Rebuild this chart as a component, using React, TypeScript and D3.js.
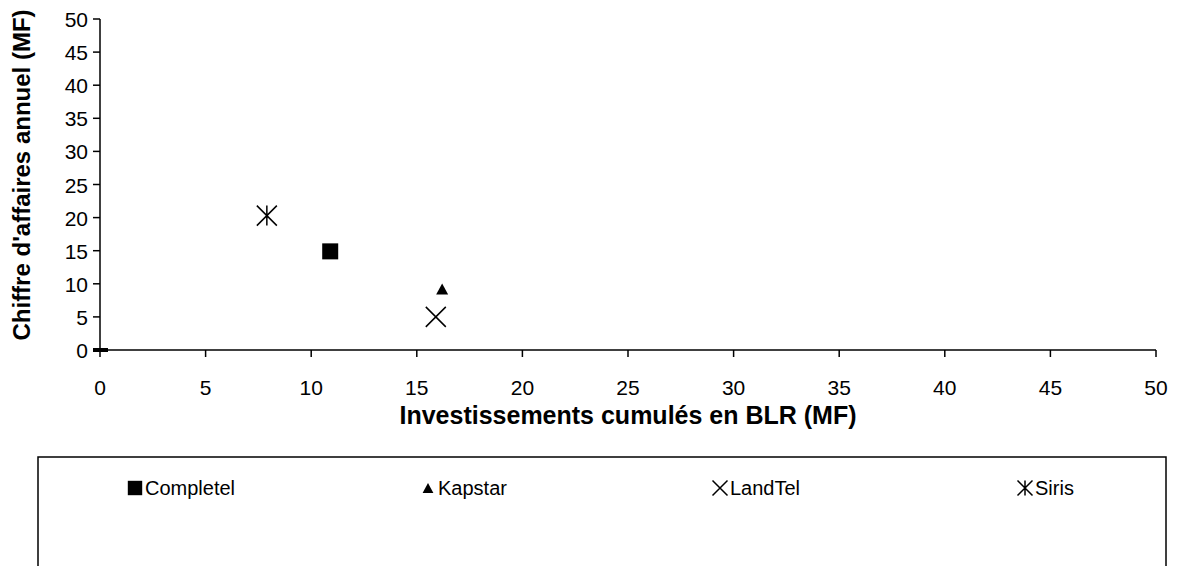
import React from "react";
import * as d3 from "d3";

const seriesNames = ["Completel", "Kapstar", "LandTel", "Siris"];
const seriesX = [10.9, 16.2, 15.9, 7.9];
const seriesY = [14.9, 9.2, 5.0, 20.3];
const markerKinds = ["square", "triangle", "x", "asterisk"];
const originPoint = [0, 0];
const xTicks = [0, 5, 10, 15, 20, 25, 30, 35, 40, 45, 50];
const yTicks = [0, 5, 10, 15, 20, 25, 30, 35, 40, 45, 50];

const W = 1177;
const H = 566;
const left = 100;
const right = 1156;
const top = 19;
const bottom = 350;
const FONT = "'Liberation Sans', Arial, sans-serif";

function Marker({ kind, cx, cy, scale = 1 }: { kind: string; cx: number; cy: number; scale?: number }) {
  if (kind === "square") {
    const s = 16 * scale;
    return <rect x={cx - s / 2} y={cy - s / 2} width={s} height={s} fill="#000" />;
  }
  if (kind === "triangle") {
    const w = 12 * scale;
    const h = 11 * scale;
    return <path d={`M${cx},${cy - h / 2}L${cx + w / 2},${cy + h / 2}L${cx - w / 2},${cy + h / 2}Z`} fill="#000" />;
  }
  if (kind === "x") {
    const r = 10 * scale;
    return (
      <path d={`M${cx - r},${cy - r}L${cx + r},${cy + r}M${cx - r},${cy + r}L${cx + r},${cy - r}`} stroke="#000" strokeWidth={1.5} fill="none" />
    );
  }
  const r = 10 * scale;
  return (
    <path
      d={`M${cx - r},${cy - r}L${cx + r},${cy + r}M${cx - r},${cy + r}L${cx + r},${cy - r}M${cx},${cy - r}L${cx},${cy + r}`}
      stroke="#000"
      strokeWidth={1.5}
      fill="none"
    />
  );
}

export default function App() {
  const x = d3.scaleLinear().domain([0, 50]).range([left, right]);
  const y = d3.scaleLinear().domain([0, 50]).range([bottom, top]);
  const legendX = [127, 420, 712, 1017];
  const legendScale = [0.9, 0.9, 0.75, 0.75];
  return (
    <svg width={W} height={H} style={{ position: "absolute", left: 0, top: 0 }} fontFamily={FONT}>
      <rect width={W} height={H} fill="#fff" />
      <line x1={x(0)} x2={x(50)} y1={y(0)} y2={y(0)} stroke="#000" strokeWidth={1.5} />
      <line x1={x(0)} x2={x(0)} y1={y(0)} y2={y(50)} stroke="#000" strokeWidth={1.5} />
      {xTicks.map((t) => (
        <g key={"xt" + t}>
          <line x1={x(t)} x2={x(t)} y1={y(0)} y2={y(0) + 7} stroke="#000" strokeWidth={1.5} />
          <text x={x(t)} y={y(0) + 45} textAnchor="middle" fontSize={21}>
            {t}
          </text>
        </g>
      ))}
      {yTicks.map((t) => (
        <g key={"yt" + t}>
          <line x1={x(0) - 7} x2={x(0)} y1={y(t)} y2={y(t)} stroke="#000" strokeWidth={1.5} />
          <text x={x(0) - 12} y={y(t) + 8} textAnchor="end" fontSize={21}>
            {t}
          </text>
        </g>
      ))}
      <text x={(left + right) / 2} y={424} textAnchor="middle" fontSize={25} fontWeight="bold">
        Investissements cumulés en BLR (MF)
      </text>
      <text transform={`translate(30,175) rotate(-90)`} textAnchor="middle" fontSize={24} fontWeight="bold">
        Chiffre d'affaires annuel (MF)
      </text>
      <rect x={x(originPoint[0]) - 7} y={y(originPoint[1]) - 2} width={15} height={4} fill="#000" />
      {seriesNames.map((n, i) => (
        <Marker key={n} kind={markerKinds[i]} cx={x(seriesX[i])} cy={y(seriesY[i])} />
      ))}
      <rect x={38} y={457} width={1128} height={130} fill="#fff" stroke="#000" strokeWidth={1.5} />
      {seriesNames.map((n, i) => (
        <g key={"lg" + n}>
          <Marker kind={markerKinds[i]} cx={legendX[i] + 8} cy={488} scale={legendScale[i]} />
          <text x={legendX[i] + 18} y={495} fontSize={20}>
            {n}
          </text>
        </g>
      ))}
    </svg>
  );
}
